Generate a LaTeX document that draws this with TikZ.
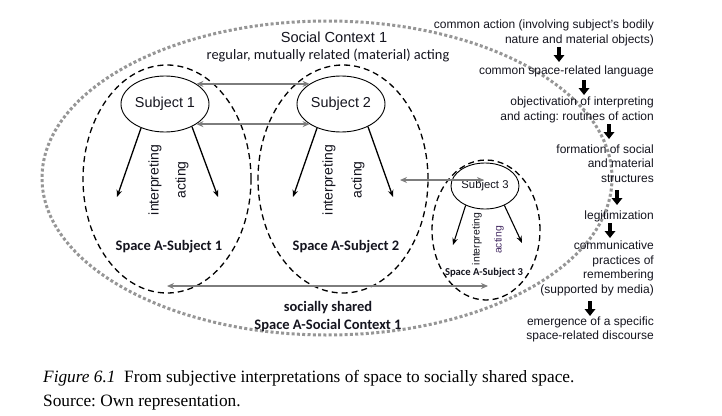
\documentclass[tikz,border=0pt]{standalone}
\usepackage{fontspec}
\setmainfont{Liberation Sans}
\newfontfamily\calfont{Carlito}
\newfontfamily\capfont{Liberation Serif}
\usetikzlibrary{shapes.geometric,arrows.meta}
\definecolor{dotgray}{RGB}{150,150,150}
\definecolor{arrgray}{RGB}{125,125,125}
\definecolor{txt}{RGB}{20,20,30}
\definecolor{purp}{RGB}{70,45,100}
\frenchspacing
\begin{document}
\begin{tikzpicture}[x=1pt,y=-1pt,
  subj/.style={ellipse, draw, line width=0.9pt, inner sep=0, text=txt},
  spacebox/.style={ellipse, draw, line width=1.3pt, dash pattern=on 6pt off 4pt, inner sep=0},
  ctx/.style={draw=dotgray, line width=3pt, dash pattern=on 3pt off 2.3pt},
  garrow/.style={draw=arrgray, line width=1.8pt, {Stealth[length=7pt,width=6pt]}-{Stealth[length=7pt,width=6pt]}},
  barrow/.style={line width=1.3pt, -{Stealth[length=7pt,width=5.5pt]}},
  flow/.style={line width=3.6pt, -{Triangle[length=7pt,width=10.5pt]}},
  rtext/.style={anchor=east, align=right, inner sep=0, text=txt, font=\fontsize{12}{14.5}\selectfont},
  vlab/.style={rotate=90, inner sep=0, text=txt, font=\fontsize{14}{16}\selectfont},
  vsmall/.style={rotate=90, inner sep=0, text=txt, font=\fontsize{10.4}{12}\selectfont},
  splab/.style={inner sep=0, text=txt, font=\calfont\bfseries\fontsize{14.5}{17}\selectfont, align=center}
]
\useasboundingbox (0,0) rectangle (722,415);

% social context (dotted)
\draw[ctx] (327,178) ellipse [x radius=285, y radius=157];

% spaces
\node[spacebox, minimum width=168pt, minimum height=228pt] (sp1) at (167,179) {};
\node[spacebox, minimum width=170pt, minimum height=228pt] (sp2) at (343,179) {};
\node[spacebox, minimum width=108pt, minimum height=140pt] (sp3) at (486,230) {};

% subjects
\node[subj, minimum width=88pt, minimum height=56pt, font=\fontsize{14.4}{16}\selectfont] (s1) at (165,104) {Subject 1};
\node[subj, minimum width=88pt, minimum height=56pt, font=\fontsize{14.4}{16}\selectfont] (s2) at (341,104) {Subject 2};
\node[subj, minimum width=68pt, minimum height=46pt, font=\fontsize{11.3}{13}\selectfont] (s3) at (485,186) {Subject 3};

% titles
\node[inner sep=0, text=txt, font=\fontsize{14.6}{17}\selectfont] (ctxt) at (334,37) {Social Context 1};
\node[inner sep=0, text=txt, font=\calfont\fontsize{14.4}{17}\selectfont] (ctxs) at (328,55) {regular, mutually related (material) acting};

% grey double arrows
\draw[garrow] (s1.north east) -- (s2.north west);
\draw[garrow] (s1.south east) -- (s2.south west);
\coordinate (g3a) at (400,180);
\coordinate (g3b) at (484,180);
\draw[garrow] (g3a) -- (g3b);
\coordinate (g4a) at (167,286);
\coordinate (g4b) at (488,286);
\draw[garrow] (g4a) -- (g4b);

% subject arrows
\coordinate (e1l) at (117,197);
\coordinate (e1r) at (218,197);
\coordinate (e2l) at (293,197);
\coordinate (e2r) at (393,197);
\coordinate (e3l) at (453,245);
\coordinate (e3r) at (522,243);
\draw[barrow] (s1.225) -- (e1l);
\draw[barrow] (s1.-40) -- (e1r);
\draw[barrow] (s2.225) -- (e2l);
\draw[barrow] (s2.-40) -- (e2r);
\draw[barrow, line width=1.1pt] (s3.225) -- (e3l);
\draw[barrow, line width=1.1pt] (s3.-45) -- (e3r);

% vertical labels
\node[vlab] (i1) at (155,180) {interpreting};
\node[vlab] (a1) at (182,180) {acting};
\node[vlab] (i2) at (329,180) {interpreting};
\node[vlab] (a2) at (358,180) {acting};
\node[vsmall] (i3) at (477,239) {interpreting};
\node[vsmall, text=purp] (a3) at (499,240) {acting};

% space labels
\node[splab] (l1) at (169,247) {Space A-Subject 1};
\node[splab] (l2) at (346,247) {Space A-Subject 2};
\node[splab, font=\calfont\bfseries\fontsize{10.6}{12}\selectfont] (l3) at (484,273) {Space A-Subject 3};
\node[splab, font=\calfont\bfseries\fontsize{14.5}{18}\selectfont] (l4) at (328,317) {socially shared\\Space A-Social Context 1};

% right column
\node[rtext] (b1) at (654,33) {common action (involving subject's bodily\\nature and material objects)};
\node[rtext] (b2) at (654,71) {common space-related language};
\node[rtext] (b3) at (654,110) {objectivation of interpreting\\and acting: routines of action};
\node[rtext] (b4) at (654,163.5) {formation of social\\and material\\structures};
\node[rtext] (b5) at (654,216) {legitimization};
\node[rtext] (b6) at (654,268.5) {communicative\\practices of\\remembering\\(supported by media)};
\node[rtext] (b7) at (654,329.5) {emergence of a specific\\space-related discourse};

\coordinate (f1a) at (559,47);  \coordinate (f1b) at (559,62);
\coordinate (f2a) at (584,80);  \coordinate (f2b) at (584,95);
\coordinate (f3a) at (609,124); \coordinate (f3b) at (609,139);
\coordinate (f4a) at (617,190); \coordinate (f4b) at (617,205);
\coordinate (f5a) at (610,223); \coordinate (f5b) at (610,238);
\coordinate (f6a) at (590,301); \coordinate (f6b) at (590,316);
\draw[flow] (f1a) -- (f1b);
\draw[flow] (f2a) -- (f2b);
\draw[flow] (f3a) -- (f3b);
\draw[flow] (f4a) -- (f4b);
\draw[flow] (f5a) -- (f5b);
\draw[flow] (f6a) -- (f6b);

% caption
\node[anchor=west, inner sep=0, font=\capfont\fontsize{17.3}{20}\selectfont] (cap) at (43,378) {\itshape Figure 6.1\upshape\ \ From subjective interpretations of space to socially shared space.};
\node[anchor=west, inner sep=0, font=\capfont\fontsize{17.3}{20}\selectfont] (src) at (43,403) {Source: Own representation.};
\end{tikzpicture}
\end{document}
